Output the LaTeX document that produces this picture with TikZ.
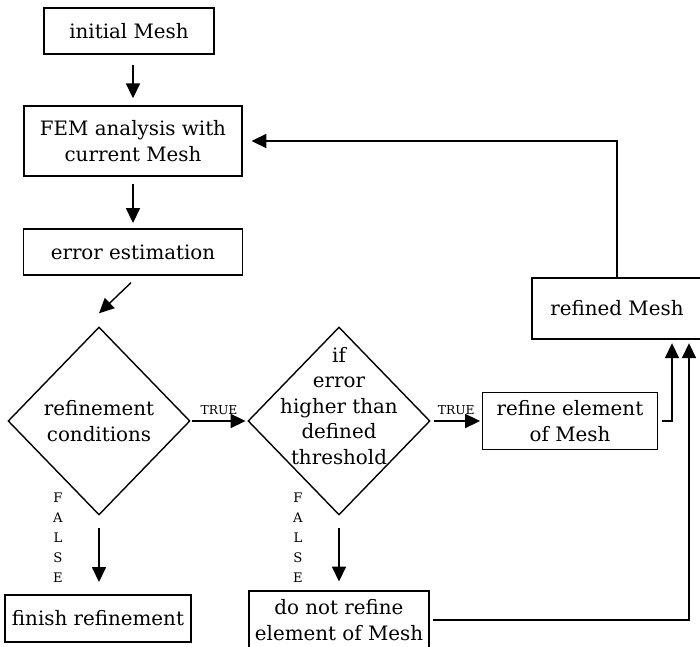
\documentclass[tikz,border=0pt]{standalone}
\usepackage{fontspec}
\setmainfont{DejaVu Serif}
\usetikzlibrary{shapes.geometric,arrows.meta,calc}
\tikzset{box/.style={draw, align=center, line width=0.8pt, font=\fontsize{11.3}{14.5}\selectfont},
	decision/.style={draw, shape=diamond, inner sep=0pt, line width=0.8pt,
		minimum width=3.64cm, minimum height=3.76cm},
	flow/.style={-{Triangle[width=8pt,length=8.5pt]}, line width=0.8pt},
	truetxt/.style={font=\fontsize{7}{8}\selectfont, above, inner sep=3pt},
	falsetxt/.style={font=\fontsize{7.5}{11.4}\selectfont, align=center, inner sep=0pt},
	inside/.style={align=center, font=\fontsize{11.3}{14.5}\selectfont}}

\begin{document}
\begin{tikzpicture}[x=0.02cm,y=0.02cm]
	\useasboundingbox (0,0) rectangle (700,646);

	\node[box,minimum width=3.4cm,minimum height=0.92cm] (init) at (129,615) {initial Mesh};
	\node[box,minimum width=4.36cm,minimum height=1.4cm] (fem) at (133,505) {FEM analysis with\\current Mesh};
	\node[box,minimum width=4.38cm,minimum height=0.92cm] (err) at (133,394) {error estimation};
	\node[decision,label={[inside]center:refinement\\conditions}] (cond) at (99,225) {};
	\node[decision,label={[inside,yshift=0.3cm]center:if\\error\\higher than\\defined\\threshold}] (thr) at (339,225) {};
	\node[box,minimum width=3.5cm,minimum height=1.14cm] (refel) at (570,225) {refine element\\of Mesh};
	\node[box,minimum width=3.4cm,minimum height=1.22cm] (refd) at (617,337.5) {refined Mesh};
	\node[box,minimum width=3.72cm,minimum height=0.94cm] (fin) at (98,27.5) {finish refinement};
	\node[box,minimum width=3.56cm,minimum height=1.16cm] (keep) at (339,26) {do not refine\\element of Mesh};

	\node[falsetxt] (f1) at (58,108) {F\\A\\L\\S\\E};
	\node[falsetxt] (f2) at (298,108) {F\\A\\L\\S\\E};

	\draw[flow,shorten <=6pt,shorten >=4pt] (init.south -| fem.north) -- (fem.north);
	\draw[flow,shorten <=4pt,shorten >=3pt] (fem.south) -- (err.south |- err.north);
	\draw[flow] ($(err.south)+(-2,-7)$) -- ($(cond.north)+(0,13)$);
	\draw[flow,shorten <=1pt,shorten >=1pt] (cond.east) -- node[truetxt] {TRUE} (thr.west);
	\draw[flow,shorten <=2pt,shorten >=1pt] (thr.east) -- node[truetxt] {TRUE} (refel.west);
	\draw[flow,shorten <=7pt,shorten >=7pt] (cond.south) -- (fin.north -| cond.south);
	\draw[flow,shorten <=7pt,shorten >=5pt] (thr.south) -- (keep.north -| thr.south);
	\draw[flow,shorten >=5pt] (refd.north) |- (fem.east);
	\draw[flow,shorten <=2pt,shorten >=2pt] (refel.east) -| ($(refd.south)+(55,0)$);
	\draw[flow,shorten <=2pt,shorten >=2pt] (keep.east) -| ($(refd.south)+(72,0)$);
\end{tikzpicture}
\end{document}
